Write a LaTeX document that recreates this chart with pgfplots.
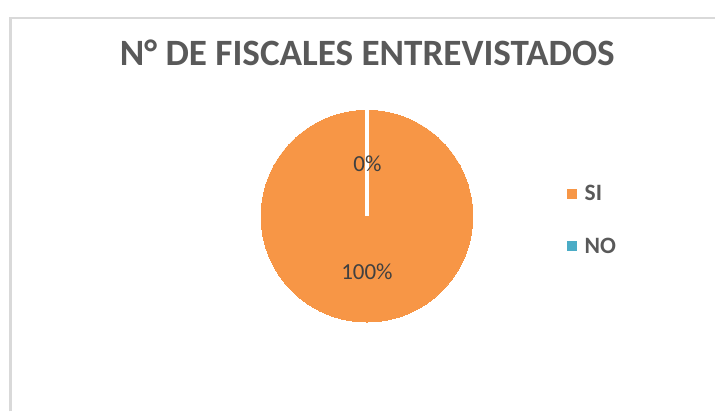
\documentclass[border=0pt]{standalone}
\usepackage{fontspec}
\setmainfont{Carlito}
\usepackage{pgfplots}
\pgfplotsset{compat=1.18}
\definecolor{siorange}{HTML}{F79646}
\definecolor{noblue}{HTML}{4BACC6}
\definecolor{titlegray}{HTML}{595959}
\definecolor{labelgray}{HTML}{404040}
\definecolor{framegray}{HTML}{D9D9D9}
\pgfplotsset{pxaxis/.style={
  scale only axis, width=716bp, height=412bp,
  xmin=0, xmax=716, ymin=0, ymax=412, enlargelimits=false,
  hide axis, clip=false, at={(0,0)}, anchor=origin}}
\begin{document}
\begin{tikzpicture}
\path (0,0) rectangle (716bp,412bp);
% chart frame
\draw[framegray, line width=2.2bp] (10.5bp,0) -- (10.5bp,394bp);
\draw[framegray, line width=2.2bp] (9.4bp,394bp) -- (716bp,394bp);
\begin{axis}[pxaxis,
  legend style={draw=none, fill=none, at={(axis cs:568,192)}, anchor=west,
    inner sep=0pt, row sep=36bp, column sep=8bp,
    nodes={inner sep=0pt, text=titlegray, font=\bfseries\fontsize{23.5bp}{26bp}\selectfont}},
  legend cell align=left,
  legend image code/.code={\fill[#1] (0bp,-4.5bp) rectangle (9bp,4.5bp);},
]
% pie: SI = 100 %, NO = 0 %
\addplot[only marks, mark=*, mark size=106bp, siorange, mark options={fill=siorange, draw=siorange, line width=0pt}, forget plot]
  coordinates {(367.5,195.5)};
\addlegendimage{siorange}
\addlegendentry{SI}
\addlegendimage{noblue}
\addlegendentry{NO}
\end{axis}
\begin{axis}[pxaxis]
% zero-size NO slice boundary
\addplot[white, line width=3.5bp, no marks] coordinates {(367.5,195.5) (367.5,302)};
% title
\node[anchor=base, text=titlegray, font=\bfseries\fontsize{37.2bp}{40bp}\selectfont, inner sep=0pt]
  at (axis cs:367.9,346.7) {N° DE FISCALES ENTREVISTADOS};
% data labels
\node[anchor=base, text=labelgray, font=\fontsize{23bp}{26bp}\selectfont, inner sep=0pt]
  at (axis cs:368,240) {0\%};
\node[anchor=base, text=labelgray, font=\fontsize{23bp}{26bp}\selectfont, inner sep=0pt]
  at (axis cs:367.5,132) {100\%};
\end{axis}
\end{tikzpicture}
\end{document}
